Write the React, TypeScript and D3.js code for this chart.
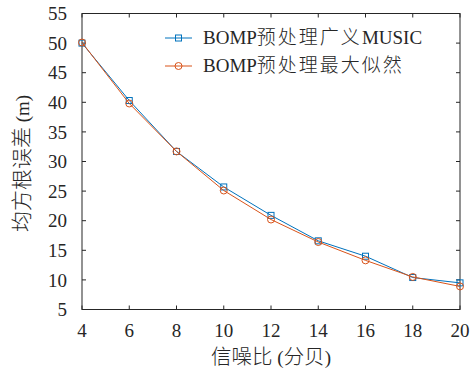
import React, { useRef, useEffect } from 'react';
import * as d3 from 'd3';

const snr = [4, 6, 8, 10, 12, 14, 16, 18, 20];
const musicRmse = [50.0, 40.3, 31.7, 25.7, 20.9, 16.6, 14.0, 10.4, 9.5];
const mlRmse = [50.1, 39.8, 31.7, 25.1, 20.2, 16.4, 13.3, 10.5, 8.9];
const yTicks = [5, 10, 15, 20, 25, 30, 35, 40, 45, 50, 55];
const xTicks = [4, 6, 8, 10, 12, 14, 16, 18, 20];
const seriesNames = ['BOMP预处理广义MUSIC', 'BOMP预处理最大似然'];

const BLUE = '#0072BD';
const ORANGE = '#D95319';
const LATIN = '"Liberation Serif", serif';
const CJK = '"Noto Sans CJK SC", sans-serif';
const INK = '#262626';

// split a label into latin / CJK runs so each gets its own font
const addMixedText = (sel: any, str: string, size: number, cjkSize: number, cjkSpacing = 0) => {
  const runs = str.match(/[\u3000-\u9fff]+|[^\u3000-\u9fff]+/g) || [];
  runs.forEach(r => {
    const cjk = /[\u3000-\u9fff]/.test(r);
    sel.append('tspan')
      .attr('font-family', cjk ? CJK : LATIN)
      .attr('font-size', cjk ? cjkSize : size)
      .attr('font-weight', cjk ? 300 : 400)
      .attr('letter-spacing', cjk ? cjkSpacing : 0)
      .text(r);
  });
};

const App = () => {
  const ref = useRef<SVGSVGElement>(null);

  useEffect(() => {
    const svg = d3.select(ref.current);
    svg.selectAll('*').remove();

    const width = 472;
    const height = 380;
    const margin = { top: 13.5, right: 12, bottom: 70.5, left: 82 };

    const x = d3.scaleLinear()
      .domain([4, 20])
      .range([margin.left, width - margin.right]);

    const y = d3.scaleLinear()
      .domain([5, 55])
      .range([height - margin.bottom, margin.top]);

    svg.append('rect')
      .attr('width', width).attr('height', height).attr('fill', '#fff');

    const tick = 4;
    const axes = svg.append('g').attr('stroke', INK).attr('stroke-width', 1);

    // inward ticks on all four sides
    yTicks.forEach(v => {
      axes.append('line').attr('x1', x(4)).attr('x2', x(4) + tick).attr('y1', y(v)).attr('y2', y(v));
      axes.append('line').attr('x1', x(20)).attr('x2', x(20) - tick).attr('y1', y(v)).attr('y2', y(v));
    });
    xTicks.forEach(v => {
      axes.append('line').attr('x1', x(v)).attr('x2', x(v)).attr('y1', y(5)).attr('y2', y(5) - tick);
      axes.append('line').attr('x1', x(v)).attr('x2', x(v)).attr('y1', y(55)).attr('y2', y(55) + tick);
    });

    axes.append('rect')
      .attr('x', x(4)).attr('y', y(55))
      .attr('width', x(20) - x(4)).attr('height', y(5) - y(55))
      .attr('fill', 'none');

    const labels = svg.append('g')
      .attr('font-family', LATIN).attr('font-size', 19).attr('fill', INK);

    labels.selectAll('.yl').data(yTicks).join('text')
      .attr('x', x(4) - 15).attr('y', d => y(d)).attr('dy', '0.35em')
      .attr('text-anchor', 'end').text(d => d);

    labels.selectAll('.xl').data(xTicks).join('text')
      .attr('x', d => x(d)).attr('y', y(5) + 21).attr('dy', '0.35em')
      .attr('text-anchor', 'middle').text(d => d);

    const xLabel = labels.append('text')
      .attr('x', (x(4) + x(20)) / 2).attr('y', 357).attr('dy', '0.35em')
      .attr('text-anchor', 'middle');
    addMixedText(xLabel, '信噪比 (分贝)', 19, 20.5);

    const yLabel = labels.append('text')
      .attr('transform', `translate(22,${(y(5) + y(55)) / 2 + 2}) rotate(-90)`)
      .attr('dy', '0.35em')
      .attr('text-anchor', 'middle');
    addMixedText(yLabel, '均方根误差 (m)', 19, 21);

    const line = d3.line<number>()
      .x((_, i) => x(snr[i]))
      .y(d => y(d));

    const drawSeries = (vals: number[], color: string, marker: 'square' | 'circle') => {
      const g = svg.append('g');
      g.append('path').datum(vals)
        .attr('d', line).attr('fill', 'none')
        .attr('stroke', color).attr('stroke-width', 1);
      if (marker === 'square') {
        g.selectAll('rect').data(vals).join('rect')
          .attr('x', (_, i) => x(snr[i]) - 3).attr('y', d => y(d) - 3)
          .attr('width', 6).attr('height', 6)
          .attr('fill', 'none').attr('stroke', color);
      } else {
        g.selectAll('circle').data(vals).join('circle')
          .attr('cx', (_, i) => x(snr[i])).attr('cy', d => y(d)).attr('r', 3.5)
          .attr('fill', 'none').attr('stroke', color);
      }
    };

    drawSeries(musicRmse, BLUE, 'square');
    drawSeries(mlRmse, ORANGE, 'circle');

    // legend
    const leg = svg.append('g');
    const legendRows = [
      { name: seriesNames[0], color: BLUE, marker: 'square', cy: 38 },
      { name: seriesNames[1], color: ORANGE, marker: 'circle', cy: 66 },
    ];
    legendRows.forEach(r => {
      leg.append('line').attr('x1', 165).attr('x2', 192).attr('y1', r.cy).attr('y2', r.cy)
        .attr('stroke', r.color);
      if (r.marker === 'square') {
        leg.append('rect').attr('x', 175.5).attr('y', r.cy - 3).attr('width', 6).attr('height', 6)
          .attr('fill', 'none').attr('stroke', r.color);
      } else {
        leg.append('circle').attr('cx', 178.5).attr('cy', r.cy).attr('r', 3.5)
          .attr('fill', 'none').attr('stroke', r.color);
      }
      const t = leg.append('text')
        .attr('x', 203).attr('y', r.cy).attr('dy', '0.35em')
        .attr('fill', INK);
      addMixedText(t, r.name, 19, 19, 2);
    });
  }, []);

  return (
    <svg ref={ref} width={472} height={380}
      style={{ position: 'absolute', left: 0, top: 0 }} />
  );
};

export default App;
